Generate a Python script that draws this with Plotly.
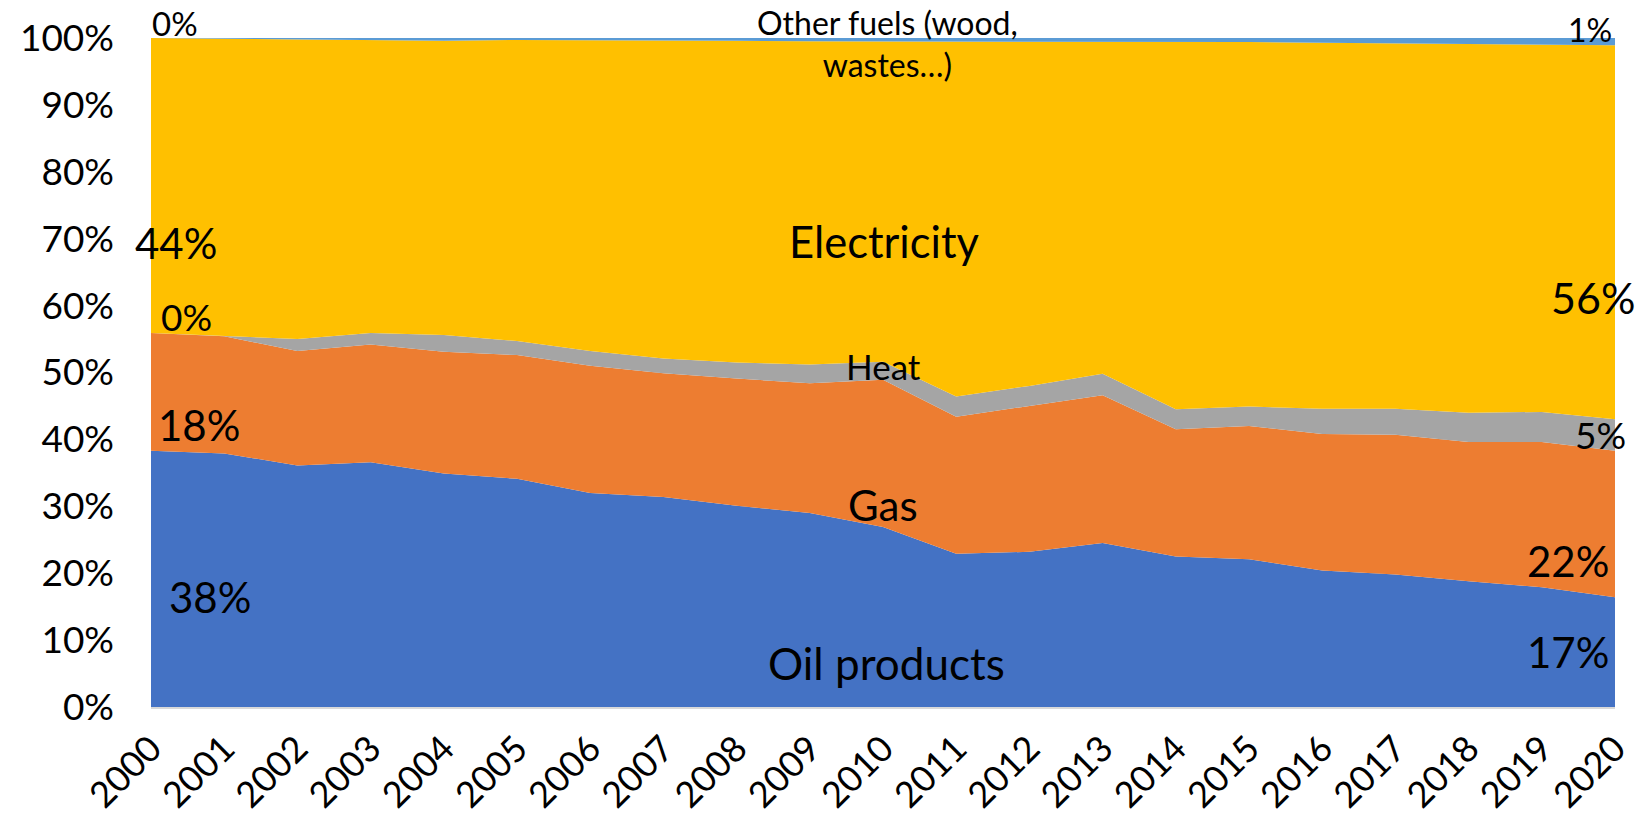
import plotly.graph_objects as go

years = list(range(2000, 2021))
oil = [38.3, 37.9, 36.1, 36.6, 34.9, 34.1, 32.0, 31.4, 30.1, 29.0, 26.9,
       22.9, 23.2, 24.5, 22.5, 22.1, 20.4, 19.8, 18.8, 17.9, 16.4]
gas = [17.6, 17.5, 17.1, 17.6, 18.2, 18.5, 19.0, 18.5, 19.0, 19.4, 22.0,
       20.5, 21.8, 22.1, 19.0, 19.9, 20.4, 20.9, 20.8, 21.7, 21.9]
heat = [0.0, 0.1, 1.8, 1.7, 2.5, 2.1, 2.2, 2.2, 2.4, 2.8, 2.7,
        3.0, 3.0, 3.2, 3.0, 2.9, 3.8, 3.9, 4.4, 4.5, 4.7]
electricity = [44.1, 44.4, 44.8, 43.9, 44.0, 45.0, 46.5, 47.5, 48.1, 48.3, 47.9,
               53.1, 51.5, 49.7, 54.9, 54.5, 54.7, 54.6, 55.1, 55.0, 55.9]
other = [0.0, 0.1, 0.2, 0.2, 0.4, 0.3, 0.3, 0.4, 0.4, 0.5, 0.5,
         0.5, 0.5, 0.5, 0.6, 0.6, 0.7, 0.8, 0.9, 0.9, 1.1]
y_ticks = [0, 10, 20, 30, 40, 50, 60, 70, 80, 90, 100]

series = [
    ("Oil products", oil, "#4472C4"),
    ("Gas", gas, "#ED7D31"),
    ("Heat", heat, "#A5A5A5"),
    ("Electricity", electricity, "#FFC000"),
    ("Other fuels (wood, wastes…)", other, "#5B9BD5"),
]

FONT = "Lato, 'Open Sans', sans-serif"

fig = go.Figure()
for name, vals, col in series:
    fig.add_trace(go.Scatter(
        x=years, y=vals, name=name, mode="lines",
        stackgroup="one", groupnorm="percent",
        line=dict(width=0, color=col), fillcolor=col,
        hoverinfo="x+y+name",
    ))

# (text, x-year, y-percent, font size)
labels = [
    ("0%", 2000.33, 102.2, 33),
    ("44%", 2000.34, 69.3, 42),
    ("0%", 2000.49, 58.4, 37),
    ("18%", 2000.66, 42.2, 42),
    ("38%", 2000.81, 16.5, 42),
    ("Electricity", 2010.02, 69.6, 43.5),
    ("Other fuels (wood,<br>wastes…)", 2010.06, 99.2, 32),
    ("Heat", 2010.00, 51.0, 35),
    ("Gas", 2010.00, 30.2, 42),
    ("Oil products", 2010.05, 6.6, 44),
    ("1%", 2019.66, 101.3, 32),
    ("56%", 2019.70, 61.2, 43),
    ("5%", 2019.80, 40.8, 37),
    ("22%", 2019.36, 21.8, 42),
    ("17%", 2019.36, 8.2, 42),
]
for txt, x, y, s in labels:
    # the y axis spans the whole plot area (0..100), so paper = percent / 100
    fig.add_annotation(x=x, y=y / 100, xref="x", yref="paper", text=txt, showarrow=False,
                       font=dict(family=FONT, size=s, color="black"),
                       xanchor="center", yanchor="middle")

# page body has an 8px default margin, so the figure is 8px smaller
fig.update_layout(
    width=1636, height=811,
    margin=dict(l=143, r=29, t=30, b=112),
    paper_bgcolor="white", plot_bgcolor="white",
    showlegend=False,
    font=dict(family=FONT, color="black"),
)
fig.update_xaxes(
    range=[2000, 2020], tickvals=years, ticktext=[str(y) for y in years],
    tickangle=-45, tickfont=dict(size=36, family=FONT, color="black"),
    showgrid=False, zeroline=False, showline=True, linecolor="#D9D9D9", linewidth=2,
    ticks="", ticklabelstandoff=4, automargin=False,
)
fig.update_yaxes(
    range=[0, 100], tickvals=y_ticks, ticktext=[f"{v}%" for v in y_ticks],
    tickfont=dict(size=37, family=FONT, color="black"),
    showgrid=True, gridcolor="#D9D9D9", zeroline=False, showline=False,
    ticks="", ticklabelstandoff=36, automargin=False,
)

fig.write_html("out.html")
